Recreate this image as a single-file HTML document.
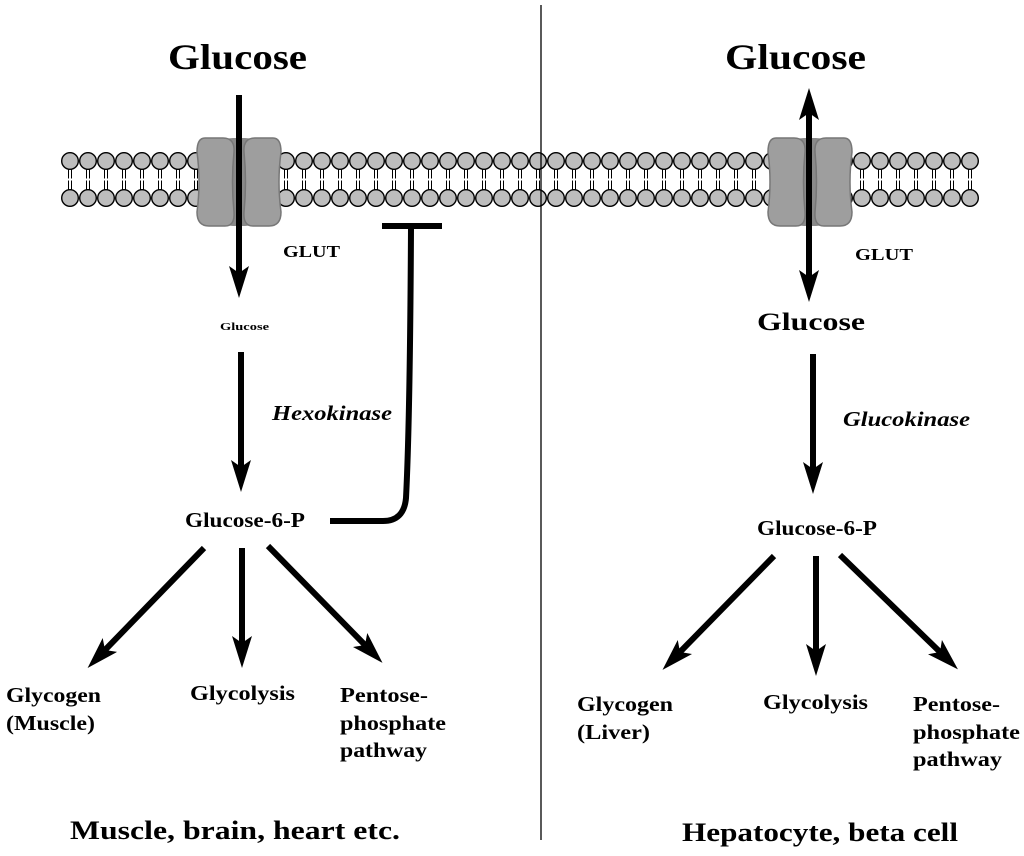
<!DOCTYPE html>
<html><head><style>
html,body{margin:0;padding:0;background:#fff;}
svg{display:block;}
text{font-family:"Liberation Serif",serif;font-weight:bold;fill:#000;}
</style></head><body>
<svg width="1024" height="856" viewBox="0 0 1024 856" xmlns="http://www.w3.org/2000/svg">
<defs>
<pattern id="lip" x="61" y="150" width="18" height="60" patternUnits="userSpaceOnUse">
<line x1="7.5" y1="18" x2="7.5" y2="42" stroke="#000" stroke-width="1"/>
<line x1="10.5" y1="18" x2="10.5" y2="42" stroke="#000" stroke-width="1"/>
<line x1="6" y1="29.5" x2="12" y2="29.5" stroke="#fff" stroke-width="2"/>
<circle cx="9" cy="11" r="8.3" fill="#bdbdbd" stroke="#000" stroke-width="1.4"/>
<circle cx="9" cy="48" r="8.3" fill="#bdbdbd" stroke="#000" stroke-width="1.4"/>
</pattern>
<marker id="ah" viewBox="0 0 32 20" refX="7" refY="10" markerWidth="32" markerHeight="20" markerUnits="userSpaceOnUse" orient="auto-start-reverse">
<path d="M0 0 L32 10 L0 20 L7 10 Z" fill="#000"/>
</marker>
<g id="tr">
<rect x="-28" y="-44" width="56" height="88" rx="22" fill="#8a8a8a"/>
<path d="M-34 -44 Q-42 -44 -42 -30 Q-38 0 -42 30 Q-42 44 -30 44 L-14 44 Q-4 44 -5 30 Q-8 0 -5 -30 Q-4 -44 -16 -44 Z" fill="#9e9e9e" stroke="#777" stroke-width="1.5"/>
<path d="M34 -44 Q42 -44 42 -30 Q38 0 42 30 Q42 44 30 44 L14 44 Q4 44 5 30 Q8 0 5 -30 Q4 -44 16 -44 Z" fill="#9e9e9e" stroke="#777" stroke-width="1.5"/>
</g>
</defs>
<rect x="61" y="150" width="918" height="60" fill="url(#lip)"/>
<use href="#tr" x="239" y="182"/>
<use href="#tr" x="810" y="182"/>
<line x1="541" y1="5" x2="541" y2="840" stroke="#000" stroke-width="1.3"/>

<g stroke="#000" stroke-width="6" fill="none">
<line x1="239" y1="95" x2="239" y2="273" marker-end="url(#ah)"/>
<line x1="241" y1="352" x2="241" y2="467" marker-end="url(#ah)"/>
<line x1="204" y1="548" x2="105" y2="650" marker-end="url(#ah)"/>
<line x1="242" y1="548" x2="242" y2="643" marker-end="url(#ah)"/>
<line x1="268" y1="546" x2="365" y2="645" marker-end="url(#ah)"/>
<path d="M330 521 L383 521 Q404 521 406 498 Q410 420 411 228"/>
<line x1="382" y1="226" x2="442" y2="226"/>
<line x1="809" y1="113" x2="809" y2="277" marker-start="url(#ah)" marker-end="url(#ah)"/>
<line x1="813" y1="354" x2="813" y2="469" marker-end="url(#ah)"/>
<line x1="774" y1="556" x2="680" y2="652" marker-end="url(#ah)"/>
<line x1="816" y1="556" x2="816" y2="651" marker-end="url(#ah)"/>
<line x1="840" y1="555" x2="940" y2="652" marker-end="url(#ah)"/>
</g>

<!-- left -->
<text x="168" y="69" font-size="36" textLength="139" lengthAdjust="spacingAndGlyphs">Glucose</text>
<text x="283" y="257" font-size="17" textLength="57" lengthAdjust="spacingAndGlyphs">GLUT</text>
<text x="220" y="330" font-size="11" textLength="49" lengthAdjust="spacingAndGlyphs">Glucose</text>
<text x="272" y="420" font-size="21" font-style="italic" textLength="120" lengthAdjust="spacingAndGlyphs">Hexokinase</text>
<text x="185" y="527" font-size="21" textLength="120" lengthAdjust="spacingAndGlyphs">Glucose-6-P</text>
<text x="6" y="702" font-size="21" textLength="95" lengthAdjust="spacingAndGlyphs">Glycogen</text>
<text x="6" y="730" font-size="21" textLength="89" lengthAdjust="spacingAndGlyphs">(Muscle)</text>
<text x="190" y="700" font-size="21" textLength="105" lengthAdjust="spacingAndGlyphs">Glycolysis</text>
<text x="340" y="702" font-size="21" textLength="88" lengthAdjust="spacingAndGlyphs">Pentose-</text>
<text x="340" y="730" font-size="21" textLength="106" lengthAdjust="spacingAndGlyphs">phosphate</text>
<text x="340" y="757" font-size="21" textLength="87" lengthAdjust="spacingAndGlyphs">pathway</text>
<text x="70" y="839" font-size="26" textLength="330" lengthAdjust="spacingAndGlyphs">Muscle, brain, heart etc.</text>

<!-- right -->
<text x="725" y="69" font-size="36" textLength="141" lengthAdjust="spacingAndGlyphs">Glucose</text>
<text x="855" y="260" font-size="17" textLength="58" lengthAdjust="spacingAndGlyphs">GLUT</text>
<text x="757" y="330" font-size="25" textLength="108" lengthAdjust="spacingAndGlyphs">Glucose</text>
<text x="843" y="426" font-size="21" font-style="italic" textLength="127" lengthAdjust="spacingAndGlyphs">Glucokinase</text>
<text x="757" y="535" font-size="21" textLength="120" lengthAdjust="spacingAndGlyphs">Glucose-6-P</text>
<text x="577" y="711" font-size="21" textLength="96" lengthAdjust="spacingAndGlyphs">Glycogen</text>
<text x="577" y="739" font-size="21" textLength="73" lengthAdjust="spacingAndGlyphs">(Liver)</text>
<text x="763" y="709" font-size="21" textLength="105" lengthAdjust="spacingAndGlyphs">Glycolysis</text>
<text x="913" y="711" font-size="21" textLength="87" lengthAdjust="spacingAndGlyphs">Pentose-</text>
<text x="913" y="739" font-size="21" textLength="107" lengthAdjust="spacingAndGlyphs">phosphate</text>
<text x="913" y="766" font-size="21" textLength="89" lengthAdjust="spacingAndGlyphs">pathway</text>
<text x="682" y="841" font-size="26" textLength="276" lengthAdjust="spacingAndGlyphs">Hepatocyte, beta cell</text>
</svg>
</body></html>
